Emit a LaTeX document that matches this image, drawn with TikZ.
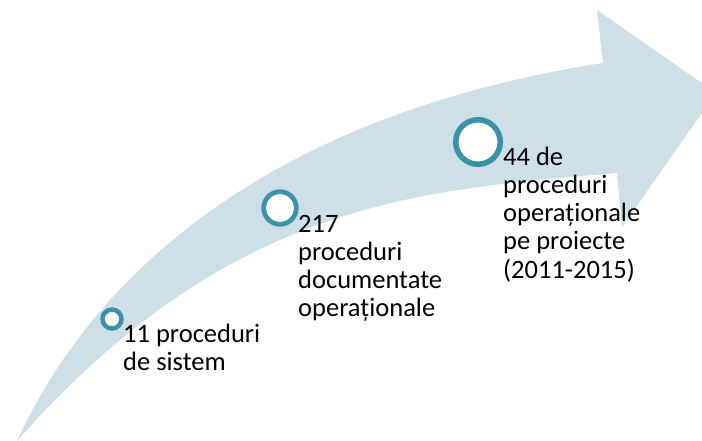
\documentclass[tikz,border=0pt]{standalone}
\usepackage{fontspec}
\setmainfont{Carlito}
\definecolor{arrowfill}{RGB}{205,224,231}
\definecolor{ringcol}{RGB}{59,145,168}
\begin{document}
\begin{tikzpicture}[x=1pt,y=-1pt,
  ringnode/.style={circle,draw=ringcol,fill=white,inner sep=0pt},
  txt/.style={anchor=base west,align=left,inner sep=0pt,font=\fontsize{26.5}{28.3}\selectfont}]
\useasboundingbox (0,0) rectangle (702,441);
\begin{scope}
\clip (0,0) rectangle (702,441);
\fill[arrowfill] (17,441) .. controls (105,250) and (300,110) .. (603,63)
  -- (597,10) -- (716,93) -- (622,227) -- (617,173)
  .. controls (420,190) and (230,200) .. (17,441) -- cycle;
\end{scope}
\node[ringnode,minimum size=19pt,line width=4.5pt] (c1) at (112,319) {};
\node[ringnode,minimum size=32.6pt,line width=4.7pt] (c2) at (280,208) {};
\node[ringnode,minimum size=44.5pt,line width=5.5pt] (c3) at (478,142) {};
% anchored at the baseline of each text's last line
\node[txt] (t1) at (123,370.3) {11 proceduri\\de sistem};
\node[txt] (t2) at (298,316.9) {217\\proceduri\\documentate\\operaționale};
\node[txt] (t3) at (503,278.2) {44 de\\proceduri\\operaționale\\pe proiecte\\(2011-2015)};
\end{tikzpicture}
\end{document}
